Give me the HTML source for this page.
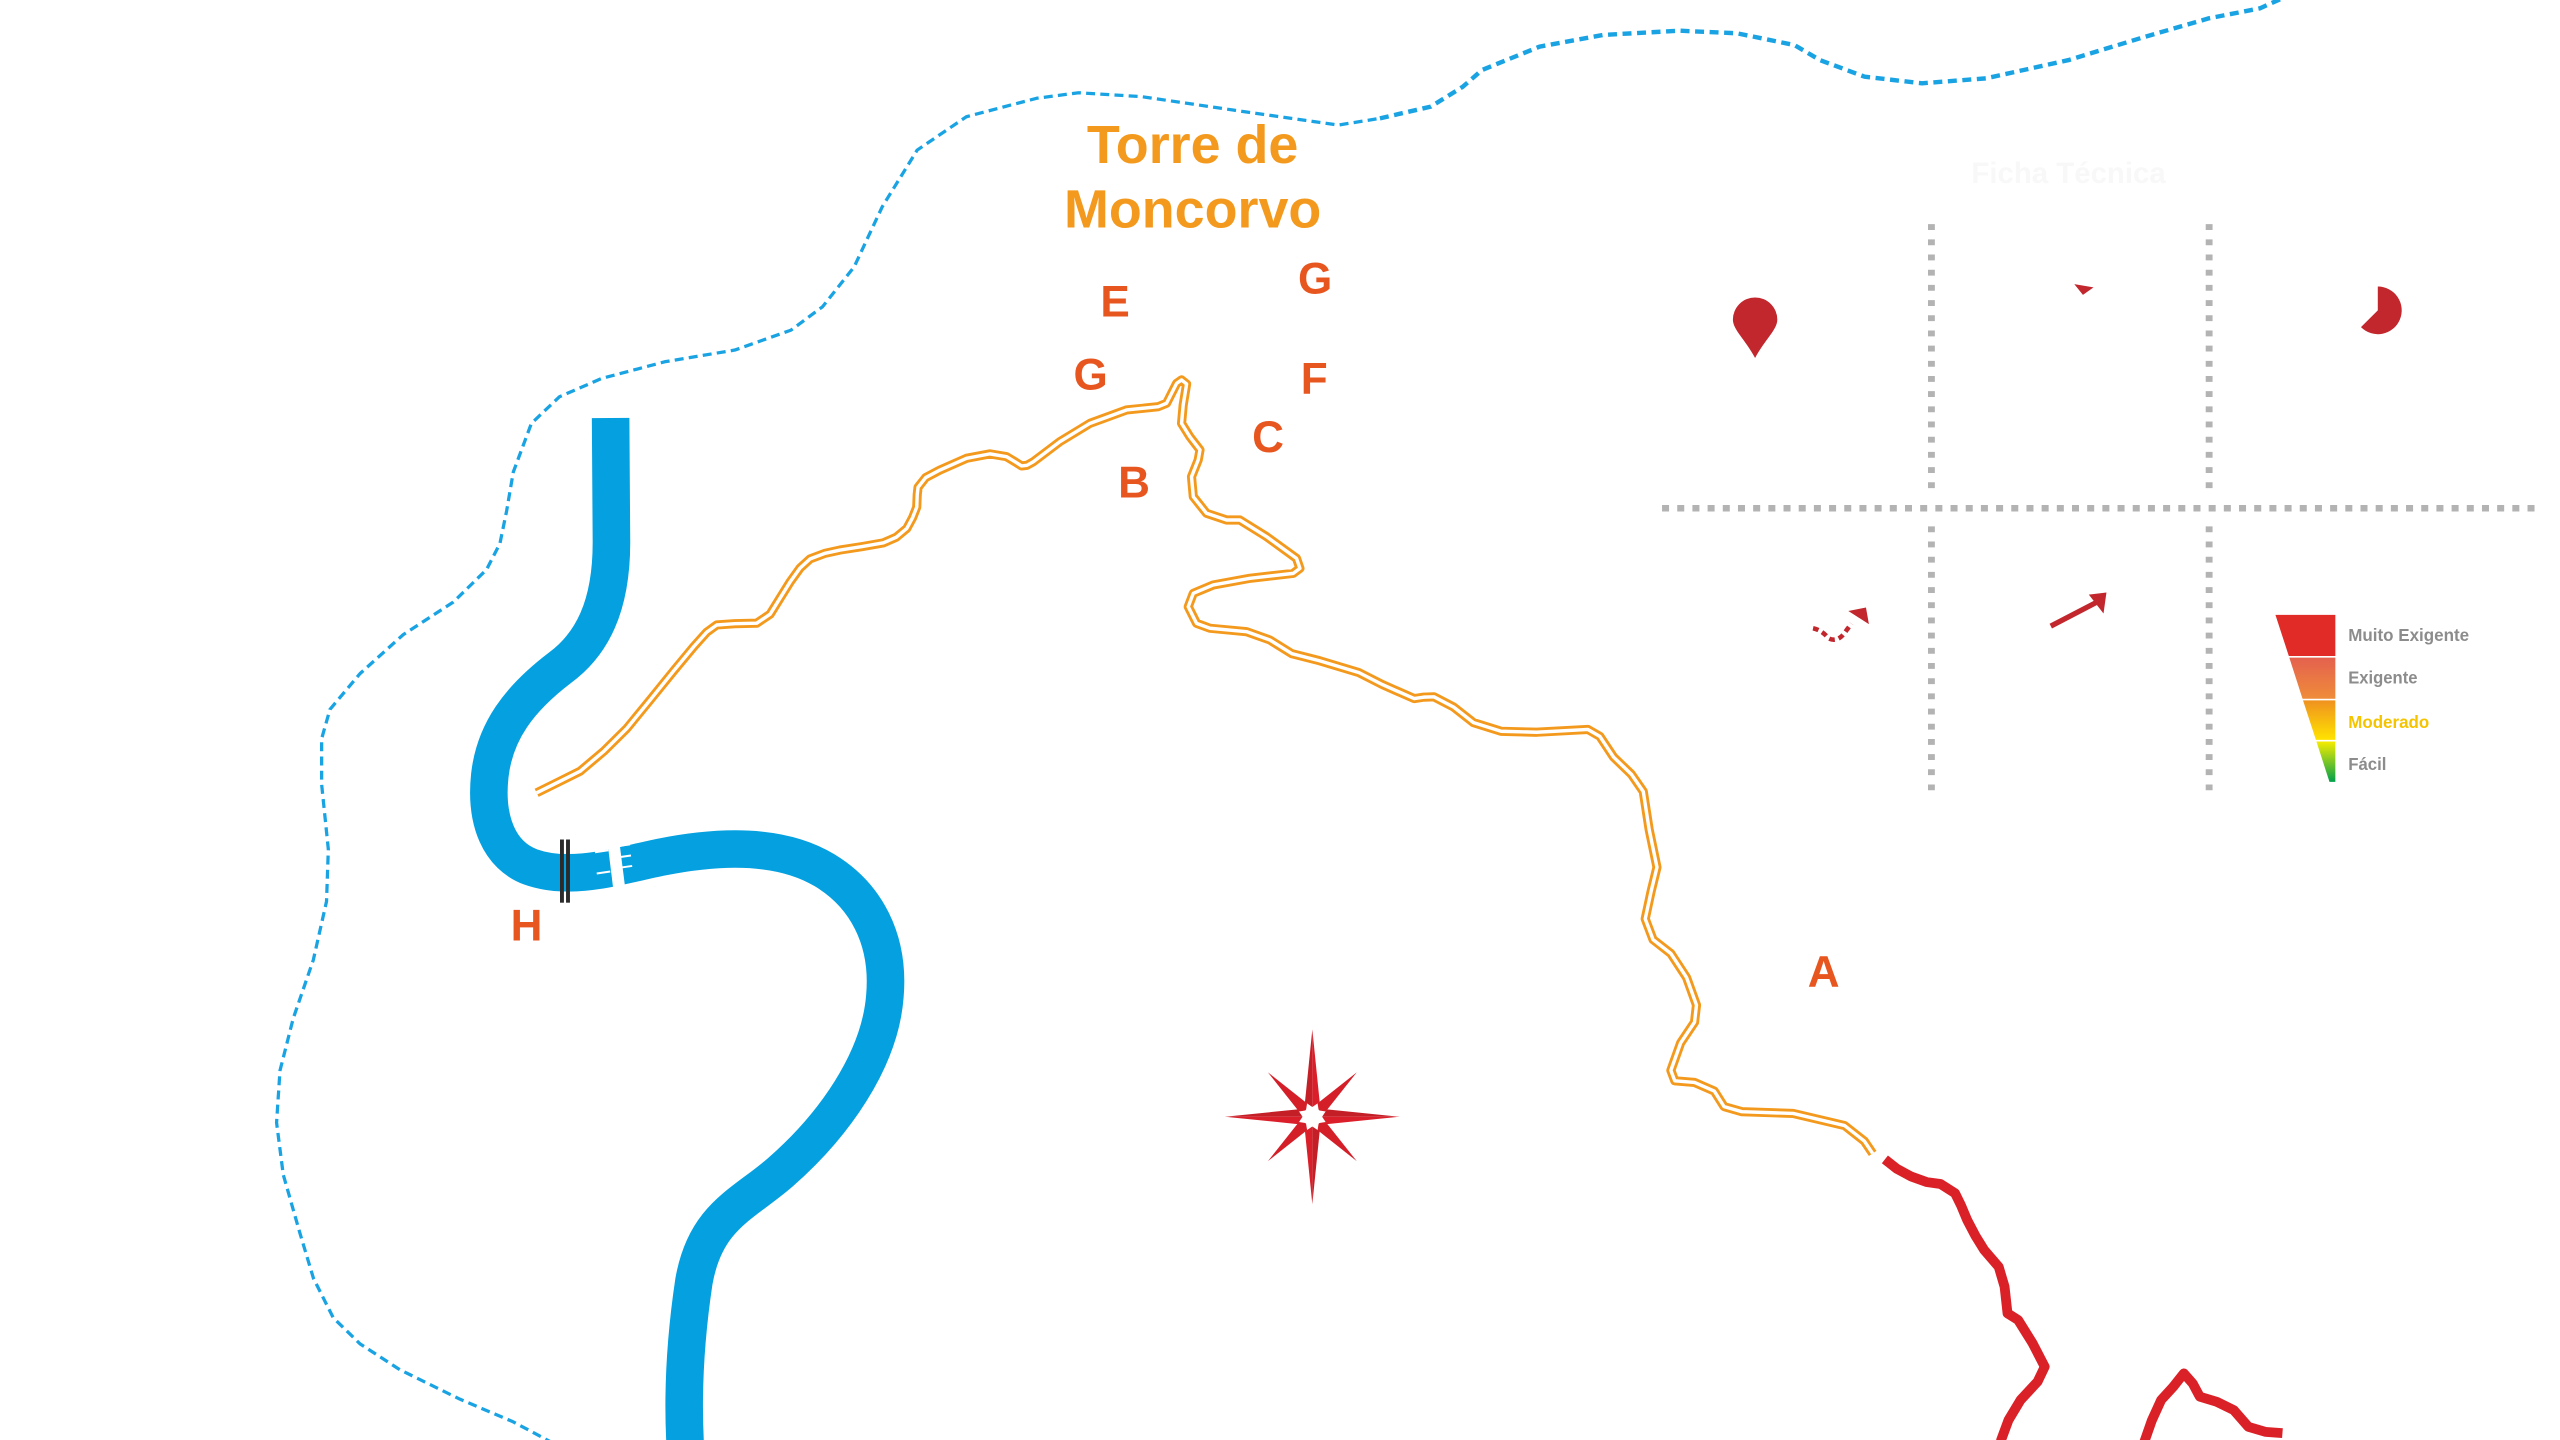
<!DOCTYPE html>
<html>
<head>
<meta charset="utf-8">
<style>
html,body{margin:0;padding:0;background:#fff;width:2560px;height:1440px;overflow:hidden;}
svg{display:block;}
text{font-family:"Liberation Sans",Arial,sans-serif;}
</style>
</head>
<body>
<svg width="2560" height="1440" viewBox="0 0 1568 882" xmlns="http://www.w3.org/2000/svg">
<defs>
<linearGradient id="g2" x1="0" y1="0" x2="0" y2="1"><stop offset="0" stop-color="#E4614F"/><stop offset="1" stop-color="#EF8C3A"/></linearGradient>
<linearGradient id="g3" x1="0" y1="0" x2="0" y2="1"><stop offset="0" stop-color="#EF9220"/><stop offset="1" stop-color="#FFE300"/></linearGradient>
<linearGradient id="g4" x1="0" y1="0" x2="0" y2="1"><stop offset="0" stop-color="#F6EC00"/><stop offset="1" stop-color="#00A04B"/></linearGradient>
</defs>
<rect width="1568" height="882" fill="#fff"/>

<!-- blue dashed boundary -->
<path d="M338.9,884 L314.4,870.9 L281.7,857 L245,839 L220.5,823.1 L204.1,807.1 L192,783 L183.7,755.3 L173.5,719.5 L169.4,687.6 L171.5,655.7 L179.6,623.8 L191.9,588 L200,552.1 L201.1,520.2 L197,480.4 L197,452.5 L202.1,434.5 L220.5,412.6 L247,388.7 L277.6,368.8 L298,348.9 L306.2,332.9 L310.3,313 L314.4,289.1 L325.5,259.3 L342.7,243 L368.5,231.8 L407.1,221.6 L450.1,214.4 L484.5,202.2 L503.8,187.9 L523.2,163.4 L540.4,126.6 L561.8,91.9 L591.9,71.5 L634.9,60.2 L660.7,56.8 L699.3,59.2 L755.2,67.4 L819.7,76.6 L845.2,72.5" fill="none" stroke="#1AA3E3" stroke-width="2" stroke-dasharray="5.5 3.2" stroke-linejoin="round"/>
<path d="M845.2,72.5 L876.4,65.3 L896,53.1 L907.7,42.9 L942.9,28.6 L981.9,21.4 L1028.8,18.8 L1064,20.4 L1099.1,27.6 L1114.7,36.8 L1142.1,47 L1177.2,51 L1216.3,48 L1267,36.8 L1313.9,22.5 L1353,11.2 L1384.2,5.1 L1400,-2" fill="none" stroke="#1AA3E3" stroke-width="2.7" stroke-dasharray="5.5 3.4" stroke-linejoin="round"/>

<!-- river -->
<path d="M374,256 L374.5,330 C375,372 362,395 343,409 C318,428 303,448 300,475 C297,503 306,524 325,531 C350,540 380,530 405,525 C445,517 480,518 505,533 C530,548 545,575 542,610 C539,650 510,690 478,718 C455,738 432,745 425,785 C419,825 418,860 420,890" fill="none" stroke="#04A0E0" stroke-width="23"/>
<!-- dam / white break -->
<polygon points="371.6,512 378.9,512 383.2,546 375.8,546" fill="#fff"/>
<g stroke="#fff" stroke-width="1.2">
<line x1="364.4" y1="522" x2="372.6" y2="520.8"/>
<line x1="365.5" y1="535" x2="373.8" y2="533.8"/>
<line x1="378.7" y1="518.2" x2="385.9" y2="517.2"/>
<line x1="379.5" y1="525" x2="386.5" y2="524"/>
<line x1="380.3" y1="531.4" x2="387.2" y2="530.4"/>
</g>
<!-- bridge -->
<rect x="343" y="514.2" width="2.4" height="38.7" fill="#2b2b2b"/>
<rect x="346.7" y="514.2" width="2.4" height="38.7" fill="#2b2b2b"/>

<!-- orange trail (double line) -->
<g fill="none" stroke-linejoin="round">
<path stroke="#F39A1E" stroke-width="5.6" d="M328.7,485.6 L342,479 L355.3,472.4 L370,460 L383.9,446.2 L398,429 L412.4,411.2 L425,396 L432.9,387.2 L439,382.8 L450,382 L463.5,381.7 L471.7,376.2 L478,366 L483.9,356.5 L490,348 L496.2,342.3 L505,339 L514.5,336.9 L528,334.8 L541.1,332.5 L549,329 L555.4,323.7 L559,317 L561.5,310.6 L561.8,303 L562.3,298.5 L567,292.5 L575.7,287.9 L592,280.7 L606.3,278 L616.5,279.7 L622,283 L625.7,285.4 L629,285 L632.9,282.8 L649.2,270.5 L667.6,259.3 L690,251.1 L709.4,249.1 L714.5,247 L720.7,234.8 L723.7,232.7 L726.8,235.2 L724.7,248.1 L723.7,259.3 L728.8,267.5 L735,275.6 L733.9,281.7 L729.8,292 L730.9,304.2 L739,314.4 L751.3,318.5 L759.4,318.5 L775.8,328.7 L794.1,342 L796.2,348.1 L792.1,351.2 L765.6,354.2 L743.1,358.3 L730.9,363.4 L727.8,371.6 L732.9,381.8 L741.1,384.8 L763.5,386.9 L777.8,392 L791.3,400.4 L808.2,404.7 L832.4,412 L846.9,419.4 L866.2,427.9 L872,427 L878.3,426.8 L890.4,433.1 L902.5,442.6 L919.4,447.9 L941.2,448.5 L972.6,446.8 L979.9,451 L988.3,463.7 L999.2,474.2 L1006.5,484.8 L1010.1,508 L1014.9,531.2 L1011.3,546 L1007.7,562.8 L1012.5,575.5 L1023.4,584 L1033,598.7 L1039.1,615.6 L1037.9,626.1 L1029.4,638.8 L1023.4,655.6 L1025.8,662 L1037.9,663 L1050,668.3 L1056,677.8 L1066.9,680.9 L1098.3,682 L1129.8,689.4 L1141.9,698.9 L1147,706.5"/>
<path stroke="#ffffff" stroke-width="2.1" d="M328.7,485.6 L342,479 L355.3,472.4 L370,460 L383.9,446.2 L398,429 L412.4,411.2 L425,396 L432.9,387.2 L439,382.8 L450,382 L463.5,381.7 L471.7,376.2 L478,366 L483.9,356.5 L490,348 L496.2,342.3 L505,339 L514.5,336.9 L528,334.8 L541.1,332.5 L549,329 L555.4,323.7 L559,317 L561.5,310.6 L561.8,303 L562.3,298.5 L567,292.5 L575.7,287.9 L592,280.7 L606.3,278 L616.5,279.7 L622,283 L625.7,285.4 L629,285 L632.9,282.8 L649.2,270.5 L667.6,259.3 L690,251.1 L709.4,249.1 L714.5,247 L720.7,234.8 L723.7,232.7 L726.8,235.2 L724.7,248.1 L723.7,259.3 L728.8,267.5 L735,275.6 L733.9,281.7 L729.8,292 L730.9,304.2 L739,314.4 L751.3,318.5 L759.4,318.5 L775.8,328.7 L794.1,342 L796.2,348.1 L792.1,351.2 L765.6,354.2 L743.1,358.3 L730.9,363.4 L727.8,371.6 L732.9,381.8 L741.1,384.8 L763.5,386.9 L777.8,392 L791.3,400.4 L808.2,404.7 L832.4,412 L846.9,419.4 L866.2,427.9 L872,427 L878.3,426.8 L890.4,433.1 L902.5,442.6 L919.4,447.9 L941.2,448.5 L972.6,446.8 L979.9,451 L988.3,463.7 L999.2,474.2 L1006.5,484.8 L1010.1,508 L1014.9,531.2 L1011.3,546 L1007.7,562.8 L1012.5,575.5 L1023.4,584 L1033,598.7 L1039.1,615.6 L1037.9,626.1 L1029.4,638.8 L1023.4,655.6 L1025.8,662 L1037.9,663 L1050,668.3 L1056,677.8 L1066.9,680.9 L1098.3,682 L1129.8,689.4 L1141.9,698.9 L1147,706.5"/>
</g>

<!-- red trail -->
<g fill="none" stroke="#DA2128" stroke-width="6" stroke-linejoin="round">
<path d="M1154.5,710.1 L1162,716 L1170.8,720.7 L1180,724 L1188.6,725.2 L1197.5,730.9 L1201,738 L1204.9,747.3 L1210,757 L1215.3,765.6 L1224.2,775.9 L1227.8,788.1 L1229.6,804.4 L1236.1,808.5 L1245,822.8 L1252.4,837.1 L1248,846.3 L1237.6,857.5 L1230.2,869.8 L1225.7,882 L1224,892"/>
<path d="M1311,890 L1318,870 L1323.7,857.5 L1331.1,849.4 L1337.6,841.2 L1343,847.3 L1347.4,855.5 L1357.8,858.6 L1368.2,863.7 L1377.1,873.9 L1387.5,877 L1398,877.8"/>
</g>

<!-- title -->
<g fill="#F39A1E" font-weight="bold" font-size="33" text-anchor="middle">
<text x="730.5" y="100">Torre de</text>
<text x="730.5" y="139.5">Moncorvo</text>
</g>

<!-- letters -->
<g fill="#E8561F" font-weight="bold" font-size="27" text-anchor="middle">
<text x="683" y="194">E</text>
<text x="805.5" y="179.7">G</text>
<text x="668" y="238.5">G</text>
<text x="805" y="241.4">F</text>
<text x="776.7" y="277">C</text>
<text x="694.6" y="304.8">B</text>
<text x="1117" y="604.5">A</text>
<text x="322.5" y="576">H</text>
</g>

<!-- compass -->
<g>
<polygon points="803.8,678 808.3,675 803.8,630.5" fill="#DA1F2A"/>
<polygon points="803.8,678 799.3,675 803.8,630.5" fill="#C41E27"/>
<polygon points="803.8,690 799.3,693 803.8,737.5" fill="#DA1F2A"/>
<polygon points="803.8,690 808.3,693 803.8,737.5" fill="#C41E27"/>
<polygon points="809.8,684 812.8,679.5 857.3,684" fill="#C41E27"/>
<polygon points="809.8,684 812.8,688.5 857.3,684" fill="#DA1F2A"/>
<polygon points="797.8,684 794.8,679.5 750.3,684" fill="#C41E27"/>
<polygon points="797.8,684 794.8,688.5 750.3,684" fill="#DA1F2A"/>
<polygon points="807.7,680.1 812.0,680.8 831.0,656.8 807.0,675.8" fill="#D41F29"/>
<polygon points="799.9,680.1 800.6,675.8 776.6,656.8 795.6,680.8" fill="#D41F29"/>
<polygon points="807.7,687.9 812.0,687.2 831.0,711.2 807.0,692.2" fill="#D41F29"/>
<polygon points="799.9,687.9 800.6,692.2 776.6,711.2 795.6,687.2" fill="#D41F29"/>
<circle cx="803.8" cy="684" r="5.8" fill="#fff"/>
</g>

<!-- panel faint text -->
<text x="1267" y="112" font-size="18" font-weight="bold" fill="#f8f8f8" text-anchor="middle">Ficha Técnica</text>

<!-- dotted grid -->
<g stroke="#B3B3B3" fill="none">
<line x1="1018" y1="311.3" x2="1557" y2="311.3" stroke-width="4" stroke-dasharray="4.3 5"/>
<line x1="1183" y1="137.3" x2="1183" y2="299.2" stroke-width="4.2" stroke-dasharray="3.6 5.7"/>
<line x1="1183" y1="322.4" x2="1183" y2="484" stroke-width="4.2" stroke-dasharray="3.6 5.7"/>
<line x1="1353.1" y1="137.3" x2="1353.1" y2="299.2" stroke-width="4.2" stroke-dasharray="3.6 5.7"/>
<line x1="1353.1" y1="322.4" x2="1353.1" y2="484" stroke-width="4.2" stroke-dasharray="3.6 5.7"/>
</g>

<!-- icons -->
<path d="M1075,219.3 C1069,208 1061.4,202 1061.4,195.8 A13.6,13.6 0 0 1 1088.6,195.8 C1088.6,202 1081,208 1075,219.3 Z" fill="#C1272D"/>
<polygon points="1270.5,174 1282.3,176 1275.8,180.6" fill="#C1272D"/>
<path d="M1456.4,190.1 L1456.4,175.5 A14.6,14.6 0 1 1 1446.1,200.4 Z" fill="#C1272D"/>
<path d="M1110.5,384.8 Q1116,386 1120,391 Q1126,394 1131,386 L1134,382" fill="none" stroke="#C1272D" stroke-width="2.8" stroke-dasharray="3.5 2.5"/>
<polygon points="1132.1,374.2 1142.9,372.1 1144.7,382.3" fill="#C1272D"/>
<line x1="1256.1" y1="383.5" x2="1284" y2="369" stroke="#C1272D" stroke-width="3.2"/>
<polygon points="1279.4,364.2 1290.2,362.9 1288.4,375.8" fill="#C1272D"/>

<!-- difficulty legend -->
<polygon points="1393.7,376.6 1430.4,376.6 1430.4,401.8 1401.9,401.8" fill="#E12B26"/>
<polygon points="1402.2,402.8 1430.4,402.8 1430.4,428 1410.3,428" fill="url(#g2)"/>
<polygon points="1410.6,429 1430.4,429 1430.4,453.2 1418.5,453.2" fill="url(#g3)"/>
<polygon points="1418.8,454.2 1430.4,454.2 1430.4,478.9 1426.8,478.9" fill="url(#g4)"/>
<g font-weight="bold" font-size="11">
<text x="1438.3" y="392.5" fill="#8C8C8C" textLength="74" lengthAdjust="spacingAndGlyphs">Muito Exigente</text>
<text x="1438.3" y="418.8" fill="#8C8C8C" textLength="42.4" lengthAdjust="spacingAndGlyphs">Exigente</text>
<text x="1438.3" y="445.9" fill="#F5C400" textLength="49.6" lengthAdjust="spacingAndGlyphs">Moderado</text>
<text x="1438.3" y="471.7" fill="#8C8C8C" textLength="23.4" lengthAdjust="spacingAndGlyphs">Fácil</text>
</g>
</svg>
</body>
</html>
